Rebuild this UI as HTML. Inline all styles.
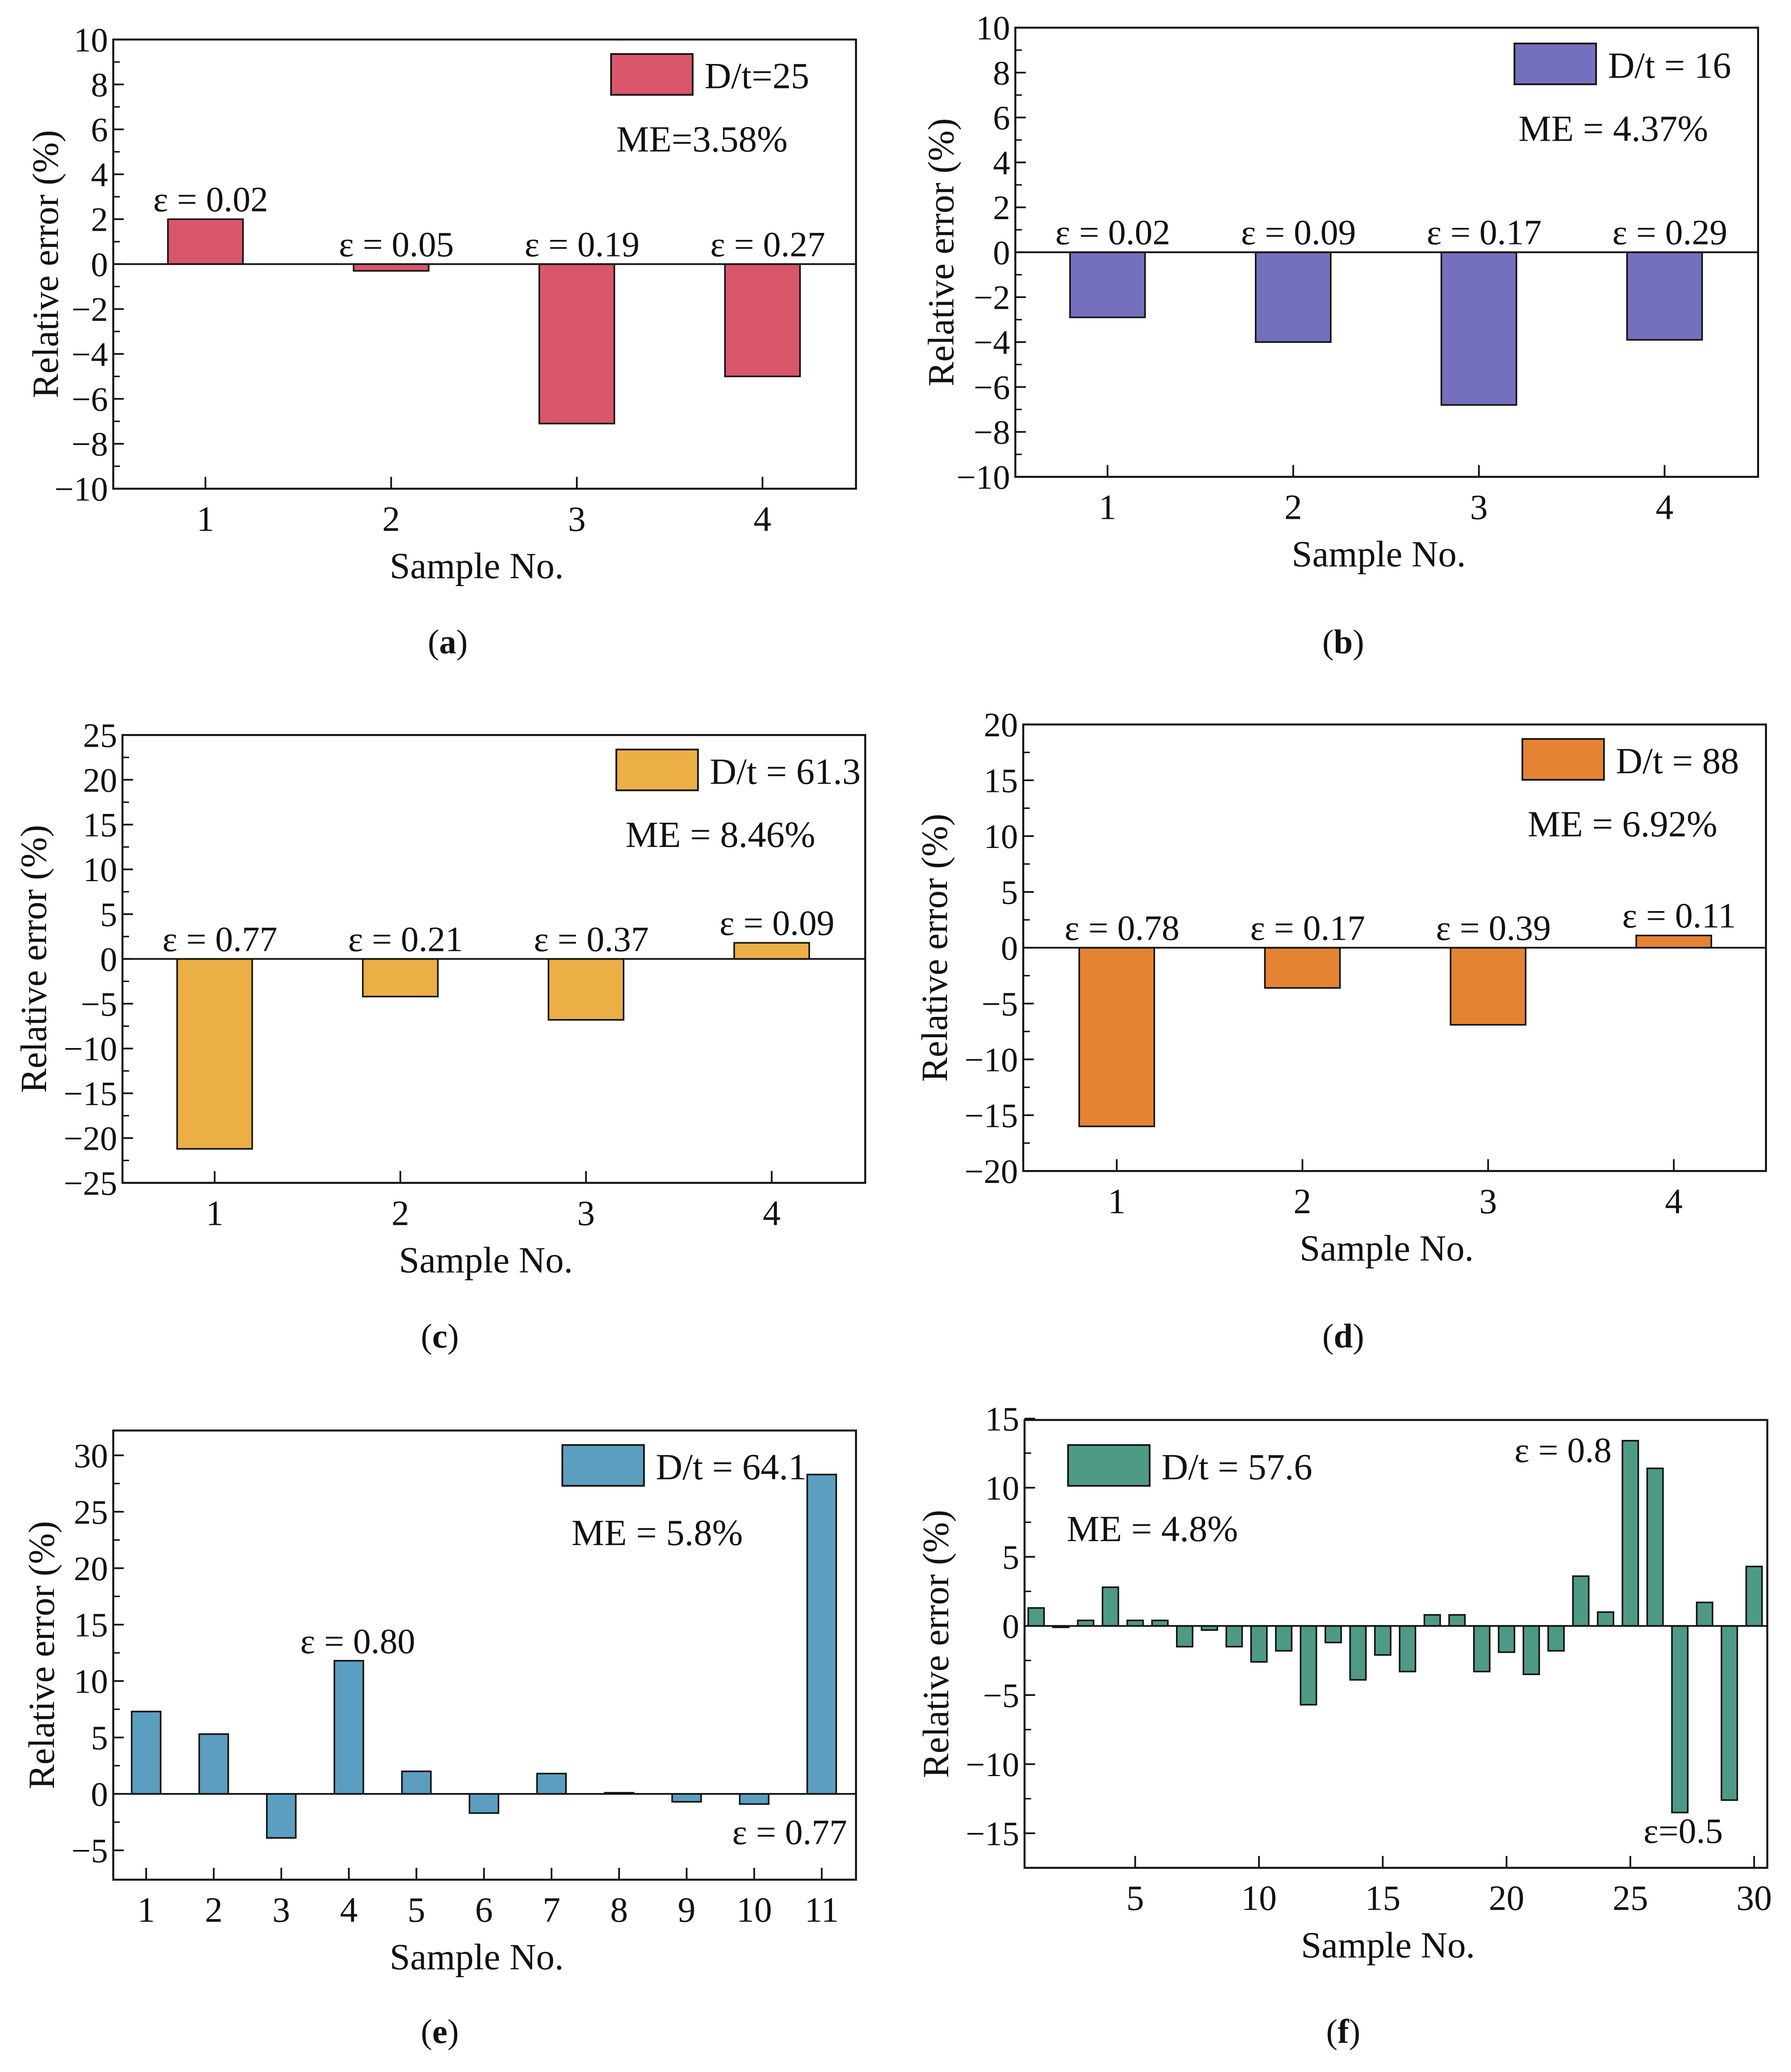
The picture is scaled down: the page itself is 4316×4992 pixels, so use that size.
<!DOCTYPE html>
<html><head><meta charset="utf-8"><style>
html,body{margin:0;padding:0;background:#fff;}
svg{display:block;}
text{font-family:"Liberation Serif",serif;fill:#111;}
</style></head>
<body>
<svg id="fig" width="4316" height="4992" viewBox="0 0 1360 1573" xmlns="http://www.w3.org/2000/svg"></svg>
<script>
// ---- data ----
const aCats = [1,2,3,4];
const aVals = [2.0,-0.3,-7.1,-5.0];
const aEps = ["ε = 0.02","ε = 0.05","ε = 0.19","ε = 0.27"];
const bCats = [1,2,3,4];
const bVals = [-2.9,-4.0,-6.8,-3.9];
const bEps = ["ε = 0.02","ε = 0.09","ε = 0.17","ε = 0.29"];
const cCats = [1,2,3,4];
const cVals = [-21.2,-4.2,-6.8,1.8];
const cEps = ["ε = 0.77","ε = 0.21","ε = 0.37","ε = 0.09"];
const dCats = [1,2,3,4];
const dVals = [-16.0,-3.6,-6.9,1.1];
const dEps = ["ε = 0.78","ε = 0.17","ε = 0.39","ε = 0.11"];
const eCats = [1,2,3,4,5,6,7,8,9,10,11];
const eVals = [7.3,5.3,-3.9,11.8,2.0,-1.7,1.8,0.1,-0.7,-0.9,28.3];
const fCats = [1,2,3,4,5,6,7,8,9,10,11,12,13,14,15,16,17,18,19,20,21,22,23,24,25,26,27,28,29,30];
const fVals = [1.3,-0.1,0.4,2.8,0.4,0.4,-1.5,-0.3,-1.5,-2.6,-1.8,-5.7,-1.2,-3.9,-2.1,-3.3,0.8,0.8,-3.3,-1.9,-3.5,-1.8,3.6,1.0,13.4,11.4,-13.5,1.7,-12.6,4.3];
const aTicks=[-10,-8,-6,-4,-2,0,2,4,6,8,10];
const cTicks=[-25,-20,-15,-10,-5,0,5,10,15,20,25];
const dTicks=[-20,-15,-10,-5,0,5,10,15,20];
const eTicks=[-5,0,5,10,15,20,25,30];
const fTicks=[-15,-10,-5,0,5,10,15];
const fXTicks=[5,10,15,20,25,30];

const NS="http://www.w3.org/2000/svg";
const svg=document.getElementById('fig');
function mk(tag,attrs,parent){const e=document.createElementNS(NS,tag);for(const k in attrs)e.setAttribute(k,attrs[k]);(parent||svg).appendChild(e);return e;}
function txt(s,x,y,size,anchor,parent,rot){const t=mk('text',{x:x,y:y,'font-size':size,'text-anchor':anchor||'middle'},parent);if(rot)t.setAttribute('transform','rotate(-90 '+x+' '+y+')');t.textContent=s;return t;}

function panel(o){
  const g=mk('g',{});
  
  
  const yS=v=>o.y0+(o.ymax-v)/(o.ymax-o.ymin)*(o.y1-o.y0);
  const xS=o.xS;
  o.vals.forEach((v,i)=>{
    const x=xS(o.cats[i]);const y0=yS(0),yv=yS(v);
    const r=mk('rect',{x:x-o.bw/2,y:Math.min(y0,yv),width:o.bw,height:Math.max(0.6,Math.abs(yv-y0)),fill:o.color,stroke:'#111','stroke-width':1.2},g);
    
    
  });
  mk('line',{x1:o.x0,x2:o.x1,y1:yS(0),y2:yS(0),stroke:'#111','stroke-width':1.3},g);
  const fr=mk('rect',{x:o.x0,y:o.y0,width:o.x1-o.x0,height:o.y1-o.y0,fill:'none',stroke:'#111','stroke-width':1.5},g);
  
  
  o.yticks.forEach((t,i)=>{
    const y=yS(t);
    mk('line',{x1:o.x0,x2:o.x0+8,y1:y,y2:y,stroke:'#111','stroke-width':1.3},g);
    const lab=txt(t<0?'−'+(-t):String(t),o.x0-4,y+9,26,'end',g);
    
    
    if(i<o.yticks.length-1){const m=yS((t+o.yticks[i+1])/2);mk('line',{x1:o.x0,x2:o.x0+5,y1:m,y2:m,stroke:'#111','stroke-width':1.1},g);}
  });
  o.xticks.forEach(t=>{
    const x=xS(t);
    mk('line',{x1:x,x2:x,y1:o.y1,y2:o.y1-9,stroke:'#111','stroke-width':1.3},g);
    const lab=txt(String(t),x,o.y1+32,27,'middle',g);
    
    
  });
  const xt=txt('Sample No.',(o.x0+o.x1)/2-6,o.y1+68,28,'middle',g);
  
  
  const yt=txt('Relative error (%)',o.ytx,(o.y0+o.y1)/2,28,'middle',g,true);
  
  
  const lr=mk('rect',{x:o.lx,y:o.ly,width:62,height:31,fill:o.color,stroke:'#111','stroke-width':1.3},g);
  
  
  const lt=txt(o.leg,o.lx+71,o.ly+26,28,'start',g);
  
  
  const me=txt(o.me,o.mx,o.my,28,'start',g);
  
  
  if(o.eps){o.eps.forEach((s,i)=>{
    const v=o.vals[i];const y=v>0?yS(v)-6:yS(0)-6;
    const e=txt(s,xS(o.cats[i])+4,y,27,'middle',g);
    
    
  });}
  (o.extra||[]).forEach(a=>{const e=txt(a[0],a[1],a[2],27,'start',g);});
  const cap=mk('text',{x:o.capx,y:o.capy,'font-size':26,'text-anchor':'middle'},g);
  
  
  cap.innerHTML='(<tspan font-weight="bold">'+o.id+'</tspan>)';
}
function lin(a,b,p0,p1){return v=>p0+(v-a)/(b-a)*(p1-p0);}

panel({id:'a',cats:aCats,vals:aVals,eps:aEps,color:'#D9566B',x0:86,x1:650,y0:30,y1:371,ymin:-10,ymax:10,yticks:aTicks,xticks:aCats,xS:lin(1,4,156,579),bw:57,ytx:44,lx:464,ly:41,leg:'D/t=25',mx:468,my:115,me:'ME=3.58%',capx:340,capy:496});
panel({id:'b',cats:bCats,vals:bVals,eps:bEps,color:'#7470BD',x0:771,x1:1335,y0:21,y1:362,ymin:-10,ymax:10,yticks:aTicks,xticks:bCats,xS:lin(1,4,841,1264),bw:57,ytx:724,lx:1150,ly:33,leg:'D/t = 16',mx:1153,my:107,me:'ME = 4.37%',capx:1020,capy:496});
panel({id:'c',cats:cCats,vals:cVals,eps:cEps,color:'#EBAF45',x0:93,x1:657,y0:558,y1:898,ymin:-25,ymax:25,yticks:cTicks,xticks:cCats,xS:lin(1,4,163,586),bw:57,ytx:35,lx:468,ly:569,leg:'D/t = 61.3',mx:475,my:643,me:'ME = 8.46%',capx:334,capy:1023});
panel({id:'d',cats:dCats,vals:dVals,eps:dEps,color:'#E48433',x0:777,x1:1341,y0:550,y1:889,ymin:-20,ymax:20,yticks:dTicks,xticks:dCats,xS:lin(1,4,848,1271),bw:57,ytx:719,lx:1156,ly:561,leg:'D/t = 88',mx:1160,my:635,me:'ME = 6.92%',capx:1020,capy:1023});
panel({id:'e',cats:eCats,vals:eVals,color:'#5B9EBF',x0:86,x1:650,y0:1086,y1:1427,ymin:-7.6,ymax:32.2,yticks:eTicks,xticks:eCats,xS:lin(1,11,111,624),bw:22,ytx:41,lx:427,ly:1097,leg:'D/t = 64.1',mx:434,my:1173,me:'ME = 5.8%',extra:[['ε = 0.80',228,1255],['ε = 0.77',556,1400]],capx:334,capy:1551});
panel({id:'f',cats:fCats,vals:fVals,color:'#4E9A87',x0:778,x1:1342,y0:1078,y1:1418,ymin:-17.5,ymax:14.9,yticks:fTicks,xticks:fXTicks,xS:lin(5,30,862,1332),bw:12,ytx:720,lx:811,ly:1097,leg:'D/t = 57.6',mx:810,my:1170,me:'ME = 4.8%',extra:[['ε = 0.8',1150,1110],['ε=0.5',1248,1399]],capx:1020,capy:1551});
</script>
</body></html>
